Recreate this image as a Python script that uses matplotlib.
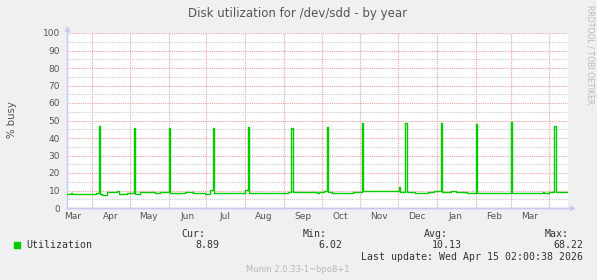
import pandas as pd
import matplotlib
matplotlib.use("Agg")
import matplotlib.pyplot as plt
import matplotlib.dates as mdates

# change points of the plotted series (value holds until the next date)
dates = [
    "2025-03-11", "2025-03-15", "2025-03-16", "2025-04-01", "2025-04-04",
    "2025-04-06", "2025-04-07", "2025-04-09", "2025-04-13", "2025-04-21",
    "2025-04-22", "2025-04-29", "2025-05-04", "2025-05-05", "2025-05-09",
    "2025-05-21", "2025-05-25", "2025-06-01", "2025-06-02", "2025-06-14",
    "2025-06-20", "2025-06-30", "2025-07-04", "2025-07-06", "2025-07-07",
    "2025-07-20", "2025-08-01", "2025-08-03", "2025-08-04", "2025-08-18",
    "2025-08-24", "2025-09-04", "2025-09-07", "2025-09-08 12:00", "2025-09-15",
    "2025-09-27", "2025-09-29", "2025-10-03", "2025-10-05", "2025-10-06 12:00",
    "2025-10-09", "2025-10-20", "2025-10-26", "2025-11-02", "2025-11-03 12:00",
    "2025-11-15", "2025-11-20", "2025-12-02", "2025-12-03", "2025-12-07",
    "2025-12-08", "2025-12-15", "2025-12-25", "2025-12-30", "2026-01-04",
    "2026-01-05", "2026-01-12", "2026-01-16", "2026-01-25", "2026-02-01",
    "2026-02-02", "2026-02-14", "2026-02-18", "2026-03-01", "2026-03-02",
    "2026-03-27", "2026-03-28", "2026-04-01", "2026-04-05", "2026-04-06",
    "2026-04-15",
]
busy = [
    7.8, 8.3, 7.8, 8.0, 8.7,
    46.9, 8.0, 7.6, 8.9, 9.6,
    8.0, 8.3, 45.7, 8.2, 9.0,
    8.5, 9.2, 45.7, 8.6, 8.9,
    8.6, 8.2, 10.5, 45.7, 8.8,
    8.6, 10.5, 46.3, 8.4, 8.8,
    8.4, 9.3, 45.7, 9.4, 9.0,
    8.6, 9.2, 9.8, 46.3, 9.4,
    8.8, 8.6, 8.9, 48.6, 9.5,
    9.7, 9.5, 11.8, 9.0, 48.6,
    9.0, 8.6, 9.0, 9.6, 48.6,
    9.4, 9.8, 9.2, 8.4, 48.0,
    8.4, 8.7, 8.4, 49.1, 8.4,
    8.9, 8.4, 9.0, 46.9, 9.0,
    8.9,
]
stats_labels = ["Cur:", "Min:", "Avg:", "Max:"]
stats_values = ["8.89", "6.02", "10.13", "68.22"]

t = pd.to_datetime(dates, format="mixed")

W, H = 597, 280
fig = plt.figure(figsize=(W / 100, H / 100), dpi=100, facecolor="#f0f0f0")

def fx(x):
    return x / W

def fy(y):
    return 1 - y / H

ax = fig.add_axes([fx(67), fy(208), fx(568) - fx(67), fy(33) - fy(208)])
ax.set_facecolor("white")

ax.plot(t, busy, drawstyle="steps-post", color="#00cc00", lw=1.0, zorder=3)

ax.set_xlim(pd.Timestamp("2025-03-11 19:00"), pd.Timestamp("2026-04-15 19:00"))
ax.set_ylim(0, 100)

ax.set_yticks(range(0, 101, 10))
ax.set_yticks(range(5, 100, 10), minor=True)
ax.xaxis.set_major_locator(mdates.MonthLocator(bymonthday=1))
ax.xaxis.set_major_formatter(plt.NullFormatter())
ax.xaxis.set_minor_locator(mdates.MonthLocator(bymonthday=16))
ax.xaxis.set_minor_formatter(mdates.DateFormatter("%b"))

ax.grid(True, which="major", axis="both", color="#f0a0a0", ls=(0, (1, 1)), lw=0.8)
ax.grid(True, which="minor", axis="y", color="#cccccc", ls=(0, (1, 1)), lw=0.8)
ax.set_axisbelow(True)

ax.tick_params(axis="y", which="both", length=0, pad=5, labelsize=6.5, labelcolor="#555555")
ax.tick_params(axis="x", which="both", length=0, pad=3, labelsize=6.5, labelcolor="#555555")

for s in ["top", "right"]:
    ax.spines[s].set_visible(False)
for s in ["left", "bottom"]:
    ax.spines[s].set_color("#c8c8f4")
    ax.spines[s].set_linewidth(1.0)
ax.spines["left"].set_bounds(0, 102)
ax.plot([0], [1.025], marker="^", ms=3, color="#c8c8f4", transform=ax.transAxes, clip_on=False)
ax.plot([1.008], [0], marker=">", ms=3, color="#c8c8f4", transform=ax.transAxes, clip_on=False)
ax.plot([0, 1.005], [0, 0], color="#c8c8f4", lw=1.0, transform=ax.transAxes, clip_on=False)

fig.text(fx(298), fy(13), "Disk utilization for /dev/sdd - by year",
         ha="center", va="center", fontsize=8.5, color="#555555")
fig.text(fx(12), fy(120), "% busy", rotation=90, ha="center", va="center",
         fontsize=7.3, color="#555555")
fig.text(fx(590), fy(5), "RRDTOOL / TOBI OETIKER", rotation=270, ha="center", va="top",
         fontsize=5.6, color="#b8b8b8")

mono = "DejaVu Sans Mono"
fig.patches.append(plt.Rectangle((fx(14), fy(248)), fx(6), fy(242) - fy(248),
                                 transform=fig.transFigure, color="#00cc00"))
fig.text(fx(26), fy(245.5), "Utilization", ha="left", va="center",
         family=mono, fontsize=7.1, color="#333333")
lab_right = [205, 327, 448, 569]
val_right = [219, 342, 462, 583]
for lab, val, xl, xv in zip(stats_labels, stats_values, lab_right, val_right):
    fig.text(fx(xl), fy(234), lab, ha="right", va="center", family=mono, fontsize=7.1, color="#333333")
    fig.text(fx(xv), fy(245.5), val, ha="right", va="center", family=mono, fontsize=7.1, color="#333333")
fig.text(fx(583), fy(257), "Last update: Wed Apr 15 02:00:38 2026", ha="right", va="center",
         family=mono, fontsize=7.1, color="#333333")
fig.text(fx(298), fy(269.5), "Munin 2.0.33-1~bpo8+1", ha="center", va="center",
         fontsize=6, color="#b8b8b8")

fig.savefig("out.png", dpi=100, facecolor=fig.get_facecolor())
